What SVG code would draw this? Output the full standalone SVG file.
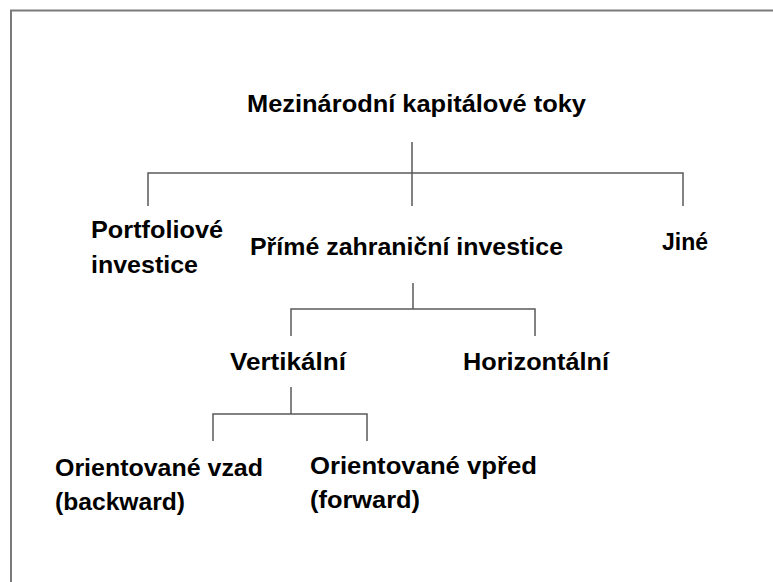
<svg xmlns="http://www.w3.org/2000/svg" width="773" height="582" viewBox="0 0 773 582">
<style>
.lbl{font-family:"Liberation Sans",Arial,sans-serif;font-weight:bold;font-size:23.5px;fill:#000}
.ln{stroke:#5a5a5a;stroke-width:1.5;fill:none}
.frame{stroke:#7a7a7a;stroke-width:2;fill:none}
</style>
<rect x="0" y="0" width="773" height="582" fill="#ffffff"/>
<path class="frame" d="M11,590 V10.5 H780"/>
<g id="connectors">
<path class="ln" d="M412,142 V173 M148,206 V173 H683 V206 M412,173 V206"/>
<path class="ln" d="M413,283 V309 M291,336 V309 H535 V336"/>
<path class="ln" d="M291,387 V414 M213,441 V414 H367 V441"/>
</g>
<g id="n-root"><text class="lbl" x="247" y="112" textLength="339" lengthAdjust="spacingAndGlyphs">Mezinárodní kapitálové toky</text></g>
<g id="n-portfolio"><text class="lbl" x="91" y="238" textLength="132" lengthAdjust="spacingAndGlyphs">Portfoliové</text><text class="lbl" x="91" y="273" textLength="107" lengthAdjust="spacingAndGlyphs">investice</text></g>
<g id="n-pzi"><text class="lbl" x="250" y="255" textLength="313" lengthAdjust="spacingAndGlyphs">Přímé zahraniční investice</text></g>
<g id="n-jine"><text class="lbl" x="662" y="250" textLength="46" lengthAdjust="spacingAndGlyphs">Jiné</text></g>
<g id="n-vert"><text class="lbl" x="230" y="370" textLength="116" lengthAdjust="spacingAndGlyphs">Vertikální</text></g>
<g id="n-horiz"><text class="lbl" x="463" y="370" textLength="146" lengthAdjust="spacingAndGlyphs">Horizontální</text></g>
<g id="n-back"><text class="lbl" x="55" y="476" textLength="208" lengthAdjust="spacingAndGlyphs">Orientované vzad</text><text class="lbl" x="55" y="510" textLength="130" lengthAdjust="spacingAndGlyphs">(backward)</text></g>
<g id="n-fwd"><text class="lbl" x="310" y="474" textLength="227" lengthAdjust="spacingAndGlyphs">Orientované vpřed</text><text class="lbl" x="310" y="508" textLength="110" lengthAdjust="spacingAndGlyphs">(forward)</text></g>
</svg>
